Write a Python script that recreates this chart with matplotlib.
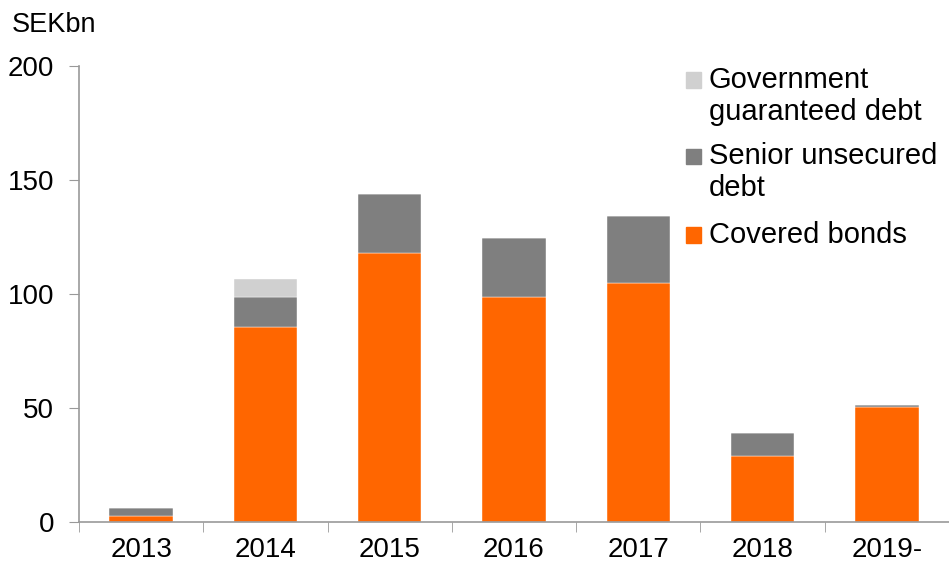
import numpy as np
import matplotlib
matplotlib.use('Agg')
import matplotlib.pyplot as plt
from matplotlib.patches import Rectangle

plt.rcParams['font.family'] = ['Liberation Sans', 'DejaVu Sans']

years = ['2013', '2014', '2015', '2016', '2017', '2018', '2019-']
covered = [2.8, 85.4, 118.0, 98.7, 104.8, 29.0, 50.6]
senior = [3.5, 13.3, 25.9, 25.9, 29.4, 10.0, 0.7]
government = [0.0, 7.9, 0.0, 0.0, 0.0, 0.0, 0.0]

ORANGE = '#FF6600'
GREY = '#7F7F7F'
LIGHT = '#D0D0D0'
AXIS = '#999999'

W, H = 949, 565
fig = plt.figure(figsize=(W / 100, H / 100), dpi=100)
ax = fig.add_axes([79 / W, 1 - 522 / H, 1 - 79 / W, (522 - 66) / H])

x = np.arange(len(years))
w = 0.51
cov = np.array(covered)
sen = np.array(senior)
gov = np.array(government)
ax.bar(x, cov, w, color=ORANGE, edgecolor='white', linewidth=0.3)
ax.bar(x, sen, w, bottom=cov, color=GREY, edgecolor='white', linewidth=0.3)
ax.bar(x, gov, w, bottom=cov + sen, color=LIGHT, edgecolor='white', linewidth=0.3)

ax.set_xlim(-0.5, len(years) - 0.5)
ax.set_ylim(0, 200)
ax.set_yticks([0, 50, 100, 150, 200])
ax.set_xticks(x)
ax.set_xticklabels(years)
ax.set_xticks(np.arange(len(years) + 1) - 0.5, minor=True)
ax.tick_params(axis='x', which='major', length=0, pad=11, labelsize=20)
ax.tick_params(axis='x', which='minor', length=7, direction='out', color=AXIS)
ax.tick_params(axis='y', length=7, direction='out', color=AXIS, labelsize=20, pad=11)

for s in ['top', 'right']:
    ax.spines[s].set_visible(False)
for s in ['left', 'bottom']:
    ax.spines[s].set_color(AXIS)
    ax.spines[s].set_linewidth(1.2)

fig.text(12 / W, 1 - 25 / H, 'SEKbn', fontsize=19.5, va='center', ha='left')

# legend drawn by hand: square beside the first line of each label
legend_items = [
    (LIGHT, ['Government', 'guaranteed debt'], 80),
    (GREY, ['Senior unsecured', 'debt'], 156),
    (ORANGE, ['Covered bonds'], 235),
]
line_gap = 32
for color, lines, yc in legend_items:
    fig.patches.append(Rectangle((686 / W, 1 - (yc + 7.5) / H), 15 / W, 15 / H,
                                 transform=fig.transFigure, color=color))
    for i, line in enumerate(lines):
        fig.text(709 / W, 1 - (yc + i * line_gap) / H, line, fontsize=21,
                 va='center', ha='left')

fig.savefig('out.png', dpi=100)
